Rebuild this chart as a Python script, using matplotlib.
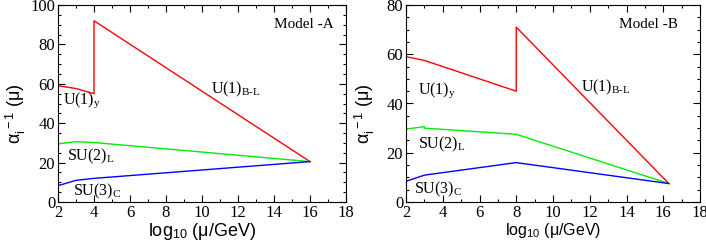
import matplotlib
matplotlib.use("Agg")
import matplotlib.pyplot as plt
from matplotlib.ticker import MultipleLocator

# Model A
a_u1_x = [2, 3, 4, 4, 16]
a_u1_y = [59, 57.6, 55, 92, 20.5]
a_su2_x = [2, 3, 4, 16]
a_su2_y = [29.5, 30.6, 30.2, 20.5]
a_su3_x = [2, 3, 4, 16]
a_su3_y = [8.3, 11.0, 12.0, 20.5]

# Model B
b_u1_x = [2, 3, 8, 8, 16.3]
b_u1_y = [59, 57.5, 45, 71, 7.5]
b_su2_x = [2, 3, 3, 8, 16.3]
b_su2_y = [29.6, 30.6, 30.0, 27.5, 7.5]
b_su3_x = [2, 3, 8, 16.3]
b_su3_y = [8.4, 10.9, 16.0, 7.5]

serif = "Liberation Serif"
sans = "Liberation Sans"

plt.rcParams['mathtext.fontset'] = 'custom'
plt.rcParams['mathtext.rm'] = serif
plt.rcParams['mathtext.it'] = serif + ':italic'
plt.rcParams['mathtext.sf'] = sans

fig = plt.figure(figsize=(7.06, 2.42), dpi=100)
axA = fig.add_axes([58/706, 1-202/242, 288/706, 197/242])
axB = fig.add_axes([406/706, 1-202/242, 294/706, 197/242])

def style(ax, ymax, ymajor, xlabsize):
    ax.set_xlim(2, 18)
    ax.set_ylim(0, ymax)
    ax.xaxis.set_major_locator(MultipleLocator(2))
    ax.xaxis.set_minor_locator(MultipleLocator(1))
    ax.yaxis.set_major_locator(MultipleLocator(ymajor))
    ax.yaxis.set_minor_locator(MultipleLocator(5))
    ax.tick_params(which='both', direction='in', top=True, right=True, width=0.8)
    ax.tick_params(which='major', length=5, labelsize=12, pad=2)
    ax.tick_params(which='minor', length=2.5)
    for lab in ax.get_xticklabels() + ax.get_yticklabels():
        lab.set_fontfamily(serif)
    for s in ax.spines.values():
        s.set_linewidth(0.8)
    ax.set_xlabel(r'log$_{\mathsf{10}}$ (μ/GeV)', fontfamily=sans, fontsize=xlabsize, labelpad=0)
    ax.set_ylabel(r'α$_{\mathsf{i}}^{\mathsf{\ -1}}$ (μ)', fontfamily=sans, fontsize=13, labelpad=2)
    ax.yaxis.set_label_coords(-0.105, 0.45)

lw = 1.0
axA.plot(a_u1_x, a_u1_y, color='#ff0000', lw=lw)
axA.plot(a_su2_x, a_su2_y, color='#00ee00', lw=lw)
axA.plot(a_su3_x, a_su3_y, color='#0000ff', lw=lw)
style(axA, 100, 20, 13)

axB.plot(b_u1_x, b_u1_y, color='#ff0000', lw=lw)
axB.plot(b_su2_x, b_su2_y, color='#00ee00', lw=lw)
axB.plot(b_su3_x, b_su3_y, color='#0000ff', lw=lw)
style(axB, 80, 20, 11.5)
axB.yaxis.set_label_coords(-0.1, 0.45)

fs = 11.5
def lab(ax, x, y, main, sub):
    ax.text(x, y, main + r'$_{\mathrm{' + sub + '}}$', fontfamily=serif, fontsize=fs,
            va='center', ha='left')

lab(axA, 2.25, 51.5, 'U(1)', 'y')
lab(axA, 10.5, 57, 'U(1)', r'B\text{-}L')
lab(axA, 2.5, 23, 'SU(2)', 'L')
lab(axA, 2.85, 5.5, 'SU(3)', 'C')
axA.text(17.3, 90, 'Model -A', fontfamily=serif, fontsize=11, ha='right', va='center')

lab(axB, 2.65, 45.5, 'U(1)', 'y')
lab(axB, 11.5, 46.5, 'U(1)', r'B\text{-}L')
lab(axB, 2.65, 23.5, 'SU(2)', 'L')
lab(axB, 2.45, 5.0, 'SU(3)', 'C')
axB.text(16.8, 72, 'Model -B', fontfamily=serif, fontsize=11, ha='right', va='center')

fig.savefig('out.png', dpi=100)
